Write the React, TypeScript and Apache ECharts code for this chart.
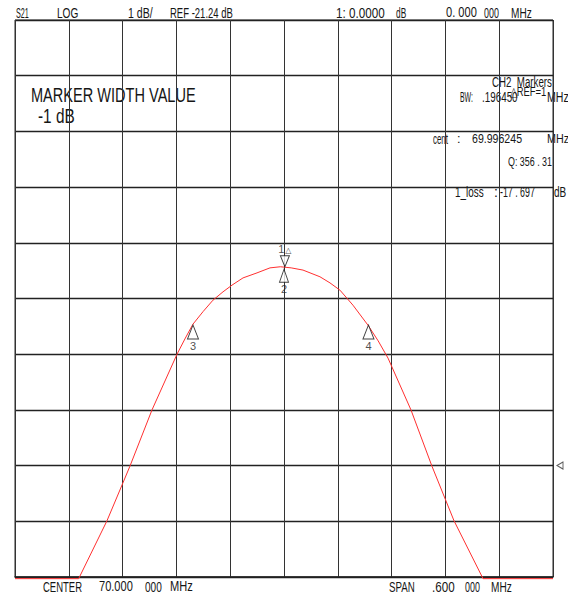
import React, { useEffect, useRef } from "react";
import * as echarts from "echarts";

// ---- instrument settings ----
const CENTER_MHZ = 70.0;
const SPAN_MHZ = 0.6;
const REF_DB = -21.24;
const DB_PER_DIV = 1;
const REF_POS_DIV = 2; // reference line, divisions above the bottom
const X_DIVS = 10;
const Y_DIVS = 10;

// ---- trace (offset from center in kHz, level in dB) ----
const traceOffsetKHz = [-300, -229, -197.4, -171.8, -147.2, -119.3, -110, -101.5, -90, -79.2, -68, -58, -45.7, -30.1, -15.6, -4, 8, 21.2, 40.1, 51.3, 62.4, 76.9, 93.7, 105, 116, 141.6, 165, 189.6, 222, 300];
const traceDb = [-23.27, -23.27, -22.23, -21.25, -20.24, -19.24, -18.95, -18.7, -18.47, -18.27, -18.12, -18.0, -17.87, -17.78, -17.69, -17.67, -17.69, -17.73, -17.85, -17.96, -18.09, -18.36, -18.72, -19.0, -19.31, -20.24, -21.25, -22.23, -23.27, -23.27];

// ---- markers ----
const markerLabels = ["1", "2", "3", "4"];
const markerOffsetKHz = [1, 0, -101.5, 94.2];
const markerDb = [-17.697, -17.697, -18.697, -18.697];

// ---- readouts ----
const markerWidthDb = -1;
const bwMHz = ".196450";
const centMHz = "69.996245";
const qValue = "356 . 31";
const lossDb = "-17 . 697";

const FONT_FAMILY = "'Liberation Sans', Arial, sans-serif";

// [text, left, capTop, capHeight, inkWidth|null]
type TextSpec = [string, number, number, number, number | null];

const texts: TextSpec[] = [
  ["S21", 16, 8, 10, 13],
  ["LOG", 57, 8, 10, 20],
  [`${DB_PER_DIV} dB/`, 128, 8, 10, 24],
  [`REF ${REF_DB.toFixed(2)} dB`, 170, 8, 10, 62],
  ["1: 0.0000", 336, 8, 10, 48],
  ["dB", 396, 8, 10, 10],
  ["0. 000", 446, 8, 10, 31],
  ["000", 484, 8, 10, 15],
  ["MHz", 511, 8, 10, 20],
  ["MARKER WIDTH VALUE", 31, 88, 15, 164],
  [`${markerWidthDb} dB`, 38, 108, 15, 36],
  ["CH2  Markers", 492, 77, 10, 60],
  ["\u25B3REF=1", 510, 87, 9, 37],
  ["BW:", 460, 92, 10, 12],
  [bwMHz, 482, 92, 10, 35],
  ["MHz", 547, 92, 10, 21],
  ["cent", 433, 134, 10, 15],
  [":", 457, 134, 9, null],
  [centMHz, 472, 134, 9, 50],
  ["MHz", 547, 134, 9, 21],
  [`Q: ${qValue}`, 508, 157, 9, 44],
  ["1_loss", 455, 187, 10, 28],
  [":", 494, 187, 10, null],
  [lossDb, 500, 187, 10, 35],
  ["dB", 554, 187, 10, 12],
  ["CENTER", 43, 582, 10, 39],
  [CENTER_MHZ.toFixed(3), 99, 582, 10, 34],
  ["000", 145, 582, 10, 17],
  ["MHz", 170, 582, 10, 22],
  ["SPAN", 389, 582, 10, 25],
  ["." + String(Math.round(SPAN_MHZ * 1000)).padStart(3, "0"), 432, 582, 10, 22],
  ["000", 465, 582, 10, 15],
  ["MHz", 491, 582, 10, 20],
];

export default function App() {
  const ref = useRef<HTMLDivElement>(null);

  useEffect(() => {
    if (!ref.current) return;
    const canvas = document.createElement("canvas");
    const ctx = canvas.getContext("2d")!;

    const graphicTexts = texts.map(([text, left, capTop, capH, w]) => {
      const size = capH / 0.716;
      ctx.font = `${size}px ${FONT_FAMILY}`;
      const m = ctx.measureText(text);
      const ink = (m.actualBoundingBoxRight || m.width) + (m.actualBoundingBoxLeft || 0);
      const sx = w ? w / ink : 1;
      return {
        type: "text",
        x: left,
        y: capTop + capH / 2,
        scaleX: sx,
        silent: true,
        style: {
          text,
          font: `${size}px ${FONT_FAMILY}`,
          fill: "#161616",
          align: "left",
          verticalAlign: "middle",
          textAlign: "left",
          textVerticalAlign: "middle",
        },
      };
    });

    const halfSpanK = (SPAN_MHZ * 1000) / 2;
    const toRel = (db: number) => (db - REF_DB) / DB_PER_DIV;

    const lineData = traceOffsetKHz.map((f, i) => [f, toRel(traceDb[i])]);

    const downTri = "path://M0 0L10 0L5 12Z";
    const markerData = markerLabels.map((lab, i) => {
      const isRef = i === 0;
      const big = i >= 2;
      return {
        name: lab,
        value: [markerOffsetKHz[i], toRel(markerDb[i])],
        symbol: isRef ? downTri : "triangle",
        symbolSize: isRef ? [9, 11] : big ? [11, 14] : [9, 13],
        symbolOffset: isRef ? [0, -7] : [0, big ? 8 : 7.5],
        label: {
          show: true,
          position: isRef ? "top" : "bottom",
          distance: isRef ? 1 : 1,
          formatter: isRef ? "{a|" + lab + "}{s|\u25B3}" : lab,
          rich: isRef
            ? {
                a: { fontSize: 11, color: "#222", fontFamily: FONT_FAMILY, verticalAlign: "top" },
                s: { fontSize: 8, color: "#222", fontFamily: "DejaVu Sans", verticalAlign: "bottom", padding: [0, 0, 0, 1] },
              }
            : undefined,
          fontSize: 11,
          color: "#222",
          fontFamily: FONT_FAMILY,
        },
      };
    });

    const chart = echarts.init(ref.current, undefined, { renderer: "svg" });
    chart.setOption({
      animation: false,
      backgroundColor: "#ffffff",
      grid: {
        left: 15,
        right: 15,
        top: 20,
        bottom: 20,
        show: true,
        borderColor: "#2a2a2a",
        borderWidth: 1,
        backgroundColor: "transparent",
      },
      xAxis: {
        type: "value",
        min: -halfSpanK,
        max: halfSpanK,
        interval: (SPAN_MHZ * 1000) / X_DIVS,
        axisLabel: { show: false },
        axisTick: { show: false },
        axisLine: { show: true, onZero: false, lineStyle: { color: "#222", width: 1.5 } },
        splitLine: { show: true, lineStyle: { color: "#333", width: 1 } },
      },
      yAxis: {
        type: "value",
        min: -REF_POS_DIV,
        max: Y_DIVS - REF_POS_DIV,
        interval: 1,
        axisLabel: { show: false },
        axisTick: { show: false },
        axisLine: { show: false },
        splitLine: { show: true, lineStyle: { color: "#222", width: 1.3 } },
      },
      series: [
        {
          type: "line",
          data: lineData,
          showSymbol: false,
          clip: false,
          lineStyle: { color: "#ff3030", width: 1 },
          z: 3,
        },
        {
          type: "scatter",
          data: markerData,
          clip: false,
          itemStyle: { color: "#ffffff", borderColor: "#111", borderWidth: 1 },
          z: 5,
        },
        {
          type: "scatter",
          data: [[halfSpanK, 0]],
          symbol: "path://M10 0L0 5L10 10Z",
          symbolSize: [6, 7],
          symbolOffset: [7, 0],
          clip: false,
          itemStyle: { color: "#ffffff", borderColor: "#333", borderWidth: 1 },
          z: 5,
        },
      ],
      graphic: graphicTexts,
    });

    return () => chart.dispose();
  }, []);

  return (
    <div
      ref={ref}
      style={{ position: "fixed", left: 0, top: 0, width: 568, height: 597, background: "#fff" }}
    />
  );
}
